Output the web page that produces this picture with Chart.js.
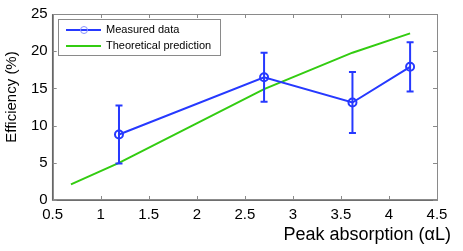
<!DOCTYPE html>
<html>
<head>
<meta charset="utf-8">
<script src="https://cdn.jsdelivr.net/npm/chart.js@4.4.0/dist/chart.umd.min.js"></script>
<style>
  html, body { margin: 0; padding: 0; background: #fff; }
  #wrap { width: 463px; height: 251px; }
</style>
</head>
<body>
<div id="wrap"><canvas id="chart" width="463" height="251"></canvas></div>
<script>
// Measured data (x = peak absorption, y = efficiency %)
const measuredX = [1.19, 2.70, 3.62, 4.22];
const measuredY = [8.8, 16.5, 13.1, 17.9];
const measuredErr = [3.9, 3.3, 4.1, 3.3];

// Theoretical prediction
const theoryX = [0.69, 1.19, 2.70, 3.62, 4.22];
const theoryY = [2.1, 5.0, 14.9, 19.8, 22.4];

const xTicks = [0.5, 1, 1.5, 2, 2.5, 3, 3.5, 4, 4.5];
const yTicks = [0, 5, 10, 15, 20, 25];

const legendLabels = ['Measured data', 'Theoretical prediction'];

const BLUE = '#2639ff';
const GREEN = '#33cc11';
const AXIS = '#8a8a8a';
const FONT = '"Liberation Sans", Arial, sans-serif';

// error bars, box frame with inward ticks, titles and legend
const decorations = {
    id: 'decorations',
    afterDatasetsDraw(chart) {
        const ctx = chart.ctx;
        const xs = chart.scales.x, ys = chart.scales.y;
        const a = chart.chartArea;

        // error bars
        ctx.save();
        ctx.strokeStyle = BLUE;
        ctx.lineWidth = 2;
        measuredX.forEach((x, i) => {
            const px = xs.getPixelForValue(x);
            const top = ys.getPixelForValue(measuredY[i] + measuredErr[i]);
            const bot = ys.getPixelForValue(measuredY[i] - measuredErr[i]);
            ctx.beginPath();
            ctx.moveTo(px, top); ctx.lineTo(px, bot);
            ctx.moveTo(px - 3.5, top); ctx.lineTo(px + 3.5, top);
            ctx.moveTo(px - 3.5, bot); ctx.lineTo(px + 3.5, bot);
            ctx.stroke();
        });
        ctx.restore();

        // frame and ticks
        ctx.save();
        ctx.strokeStyle = AXIS;
        ctx.lineWidth = 1;
        ctx.strokeRect(a.left + 0.5, a.top + 0.5, a.right - a.left, a.bottom - a.top);
        ctx.lineWidth = 1.5;
        ctx.strokeStyle = '#666';
        ctx.beginPath();
        ctx.moveTo(a.left, a.top); ctx.lineTo(a.left, a.bottom); ctx.lineTo(a.right, a.bottom);
        ctx.stroke();
        ctx.lineWidth = 1;
        ctx.strokeStyle = AXIS;
        ctx.beginPath();
        xTicks.forEach(v => {
            const px = Math.round(xs.getPixelForValue(v)) + 0.5;
            ctx.moveTo(px, a.bottom); ctx.lineTo(px, a.bottom - 4);
            ctx.moveTo(px, a.top); ctx.lineTo(px, a.top + 4);
        });
        yTicks.forEach(v => {
            const py = Math.round(ys.getPixelForValue(v)) + 0.5;
            ctx.moveTo(a.left, py); ctx.lineTo(a.left + 4, py);
            ctx.moveTo(a.right, py); ctx.lineTo(a.right - 4, py);
        });
        ctx.stroke();
        ctx.restore();

        // axis titles
        ctx.save();
        ctx.fillStyle = '#000';
        ctx.font = '18px ' + FONT;
        ctx.textAlign = 'right';
        ctx.textBaseline = 'middle';
        ctx.fillText('Peak absorption (\u03b1L)', 451, 235);
        ctx.font = '15px ' + FONT;
        ctx.translate(12, 97);
        ctx.rotate(-Math.PI / 2);
        ctx.textAlign = 'center';
        ctx.fillText('Efficiency (%)', 0, 0);
        ctx.restore();

        // legend
        ctx.save();
        ctx.fillStyle = '#fff';
        ctx.fillRect(58.5, 19.5, 162, 36);
        ctx.strokeStyle = AXIS;
        ctx.lineWidth = 1;
        ctx.strokeRect(58.5, 19.5, 162, 36);
        ctx.lineWidth = 2;
        ctx.strokeStyle = BLUE;
        ctx.beginPath(); ctx.moveTo(66, 30); ctx.lineTo(101, 30); ctx.stroke();
        ctx.lineWidth = 1;
        ctx.strokeStyle = '#8893ff';
        ctx.beginPath(); ctx.arc(84, 30, 3.5, 0, Math.PI * 2); ctx.stroke();
        ctx.lineWidth = 2;
        ctx.strokeStyle = GREEN;
        ctx.beginPath(); ctx.moveTo(66, 46); ctx.lineTo(101, 46); ctx.stroke();
        ctx.fillStyle = '#000';
        ctx.font = '11px ' + FONT;
        ctx.textAlign = 'left';
        ctx.textBaseline = 'middle';
        ctx.fillText(legendLabels[0], 106, 30);
        ctx.fillText(legendLabels[1], 106, 46);
        ctx.restore();
    }
};

new Chart(document.getElementById('chart'), {
    type: 'scatter',
    data: {
        datasets: [{
            label: legendLabels[0],
            data: measuredX.map((x, i) => ({ x: x, y: measuredY[i] })),
            showLine: true,
            borderColor: BLUE,
            borderWidth: 2,
            pointRadius: 4,
            pointBorderWidth: 2,
            pointBorderColor: BLUE,
            pointBackgroundColor: 'rgba(0,0,0,0)',
            order: 1
        }, {
            label: legendLabels[1],
            data: theoryX.map((x, i) => ({ x: x, y: theoryY[i] })),
            showLine: true,
            borderColor: GREEN,
            borderWidth: 2,
            pointRadius: 0,
            order: 2
        }]
    },
    options: {
        responsive: false,
        animation: false,
        layout: { padding: { left: 0, right: 26, top: 11, bottom: 0 } },
        plugins: {
            legend: { display: false },
            tooltip: { enabled: false }
        },
        scales: {
            x: {
                type: 'linear',
                min: 0.5,
                max: 4.5,
                afterFit: s => { s.height = 51; },
                afterBuildTicks: s => { s.ticks = xTicks.map(v => ({ value: v })); },
                grid: { display: false, drawTicks: false },
                border: { display: false },
                ticks: {
                    color: '#000',
                    font: { family: FONT, size: 15 },
                    padding: 6,
                    maxRotation: 0,
                    autoSkip: false,
                    callback: v => String(v)
                }
            },
            y: {
                min: 0,
                max: 25,
                afterFit: s => { s.width = 52.7; },
                afterBuildTicks: s => { s.ticks = yTicks.map(v => ({ value: v })); },
                grid: { display: false, drawTicks: false },
                border: { display: false },
                ticks: {
                    color: '#000',
                    font: { family: FONT, size: 15 },
                    padding: 5,
                    callback: v => String(v)
                }
            }
        }
    },
    plugins: [decorations]
});
</script>
</body>
</html>
